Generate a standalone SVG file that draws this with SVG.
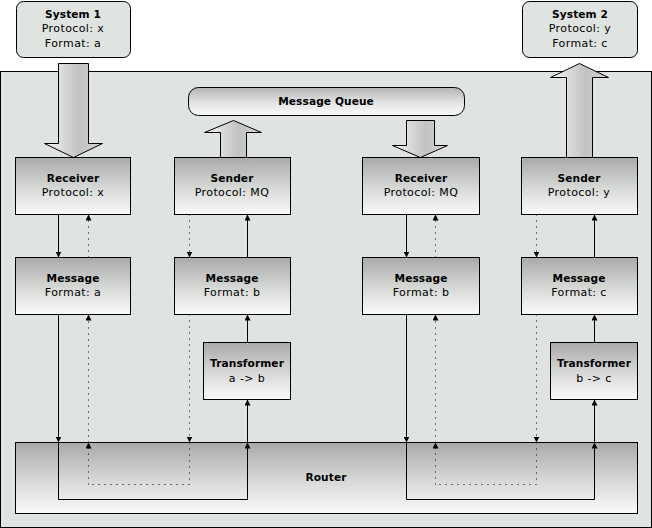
<svg xmlns="http://www.w3.org/2000/svg" width="652" height="528" viewBox="0 0 652 528">
<defs>
<linearGradient id="nodeGrad" x1="0" y1="0" x2="0" y2="1">
<stop offset="0" stop-color="#a9a9a9"/>
<stop offset="0.5" stop-color="#d4d6d4"/>
<stop offset="1" stop-color="#fafafa"/>
</linearGradient>
<linearGradient id="mqGrad" x1="0" y1="0" x2="0" y2="1">
<stop offset="0" stop-color="#b4b4b4"/>
<stop offset="0.55" stop-color="#e4e4e4"/>
<stop offset="1" stop-color="#fafafa"/>
</linearGradient>
<linearGradient id="arrowGrad" x1="0" y1="0" x2="1" y2="0">
<stop offset="0" stop-color="#f6f6f6"/>
<stop offset="0.6" stop-color="#c2c2c2"/>
<stop offset="1" stop-color="#d6d6d6"/>
</linearGradient>
<marker id="ah" viewBox="0 0 6 6" refX="6" refY="3" markerWidth="6" markerHeight="6" markerUnits="userSpaceOnUse" orient="auto">
<path d="M0,0 L6,3 L0,6 z" fill="#000"/>
</marker>
</defs>
<style>
.sys{fill:#e0e4e0;stroke:#000;stroke-width:1}
.node{fill:url(#nodeGrad);stroke:#000;stroke-width:1}
.big{fill:url(#arrowGrad);stroke:#000;stroke-width:1}
.t{font-family:"DejaVu Sans","Liberation Sans",sans-serif;font-size:11px;letter-spacing:0.4px;fill:#000;text-anchor:middle}
.b{font-weight:bold;font-size:10.6px;letter-spacing:0.1px}
.solid{fill:none;stroke:#000;stroke-width:1}
.dot{fill:none;stroke:#000;stroke-width:1;stroke-dasharray:1 5}
</style>
<rect id="container" x="0.5" y="71.5" width="651" height="456" fill="#e0e4e0" stroke="#000"/>
<g id="system1">
<rect class="sys" x="16.5" y="1.5" width="114" height="56" rx="7"/>
<text class="t b" x="73" y="18">System 1</text>
<text class="t" x="73" y="32">Protocol: x</text>
<text class="t" x="73" y="47">Format: a</text>
</g>
<g id="system2">
<rect class="sys" x="522.5" y="1.5" width="115" height="56" rx="7"/>
<text class="t b" x="580" y="18">System 2</text>
<text class="t" x="580" y="32">Protocol: y</text>
<text class="t" x="580" y="47">Format: c</text>
</g>
<g id="messageQueue">
<rect x="188.5" y="87.5" width="276" height="28" rx="10" fill="url(#mqGrad)" stroke="#000"/>
<text class="t b" x="326" y="105">Message Queue</text>
</g>
<g id="bigArrows">
<polygon class="big" points="58.5,63.5 88.5,63.5 88.5,143.5 102.5,143.5 73.5,157.5 44.5,143.5 58.5,143.5"/>
<polygon class="big" points="220.5,157.5 246.5,157.5 246.5,132.5 261.5,132.5 233.5,120.5 204.5,132.5 220.5,132.5"/>
<polygon class="big" points="406.5,120.5 434.5,120.5 434.5,145.5 447.5,145.5 420.5,157.5 392.5,145.5 406.5,145.5"/>
<polygon class="big" points="566.5,157.5 592.5,157.5 592.5,77.5 608.5,77.5 579.5,63.5 550.5,77.5 566.5,77.5"/>
</g>
<g id="receiver1">
<rect class="node" x="15.5" y="157.5" width="115" height="57"/>
<text class="t b" x="73" y="182">Receiver</text>
<text class="t" x="73" y="196">Protocol: x</text>
</g>
<g id="sender1">
<rect class="node" x="174.5" y="157.5" width="116" height="57"/>
<text class="t b" x="232" y="182">Sender</text>
<text class="t" x="232" y="196">Protocol: MQ</text>
</g>
<g id="receiver2">
<rect class="node" x="362.5" y="157.5" width="117" height="57"/>
<text class="t b" x="421" y="182">Receiver</text>
<text class="t" x="421" y="196">Protocol: MQ</text>
</g>
<g id="sender2">
<rect class="node" x="521.5" y="157.5" width="116" height="57"/>
<text class="t b" x="579" y="182">Sender</text>
<text class="t" x="579" y="196">Protocol: y</text>
</g>
<g id="messageA">
<rect class="node" x="15.5" y="257.5" width="115" height="57"/>
<text class="t b" x="73" y="282">Message</text>
<text class="t" x="73" y="296">Format: a</text>
</g>
<g id="messageB1">
<rect class="node" x="174.5" y="257.5" width="116" height="57"/>
<text class="t b" x="232" y="282">Message</text>
<text class="t" x="232" y="296">Format: b</text>
</g>
<g id="messageB2">
<rect class="node" x="362.5" y="257.5" width="117" height="57"/>
<text class="t b" x="421" y="282">Message</text>
<text class="t" x="421" y="296">Format: b</text>
</g>
<g id="messageC">
<rect class="node" x="521.5" y="257.5" width="116" height="57"/>
<text class="t b" x="579" y="282">Message</text>
<text class="t" x="579" y="296">Format: c</text>
</g>
<g id="transformer1">
<rect class="node" x="203.5" y="342.5" width="87" height="57"/>
<text class="t b" x="247" y="367">Transformer</text>
<text class="t" x="247" y="382">a -&gt; b</text>
</g>
<g id="transformer2">
<rect class="node" x="550.5" y="342.5" width="87" height="57"/>
<text class="t b" x="594" y="367">Transformer</text>
<text class="t" x="594" y="382">b -&gt; c</text>
</g>
<g id="router">
<rect class="node" x="15.5" y="442.5" width="622" height="71"/>
<text class="t b" x="326" y="481">Router</text>
</g>
<g id="connectors">
<path class="solid" d="M58.5,214.5 V257.5" marker-end="url(#ah)"/>
<path class="dot" d="M88.5,257.5 V214.5" marker-end="url(#ah)"/>
<path class="dot" d="M189.5,214.5 V257.5" marker-end="url(#ah)"/>
<path class="solid" d="M247.5,257.5 V214.5" marker-end="url(#ah)"/>
<path class="solid" d="M406.5,214.5 V257.5" marker-end="url(#ah)"/>
<path class="dot" d="M435.5,257.5 V214.5" marker-end="url(#ah)"/>
<path class="dot" d="M536.5,214.5 V257.5" marker-end="url(#ah)"/>
<path class="solid" d="M594.5,257.5 V214.5" marker-end="url(#ah)"/>

<path class="solid" d="M58.5,314.5 V442.5" marker-end="url(#ah)"/>
<path class="solid" d="M58.5,442.5 V499.5 H247.5 V442.5" marker-end="url(#ah)"/>
<path class="solid" d="M247.5,442.5 V399.5" marker-end="url(#ah)"/>
<path class="solid" d="M247.5,342.5 V314.5" marker-end="url(#ah)"/>
<path class="dot" d="M88.5,484.5 V442.5" marker-end="url(#ah)"/>
<path class="dot" d="M88.5,442.5 V314.5" marker-end="url(#ah)"/>
<path class="dot" d="M189.5,314.5 V442.5" marker-end="url(#ah)"/>
<path class="dot" d="M189.5,442.5 V484.5 H88.5"/>

<path class="solid" d="M406.5,314.5 V442.5" marker-end="url(#ah)"/>
<path class="solid" d="M406.5,442.5 V499.5 H594.5 V442.5" marker-end="url(#ah)"/>
<path class="solid" d="M594.5,442.5 V399.5" marker-end="url(#ah)"/>
<path class="solid" d="M594.5,342.5 V314.5" marker-end="url(#ah)"/>
<path class="dot" d="M435.5,484.5 V442.5" marker-end="url(#ah)"/>
<path class="dot" d="M435.5,442.5 V314.5" marker-end="url(#ah)"/>
<path class="dot" d="M536.5,314.5 V442.5" marker-end="url(#ah)"/>
<path class="dot" d="M536.5,442.5 V484.5 H435.5"/>
</g>
</svg>
